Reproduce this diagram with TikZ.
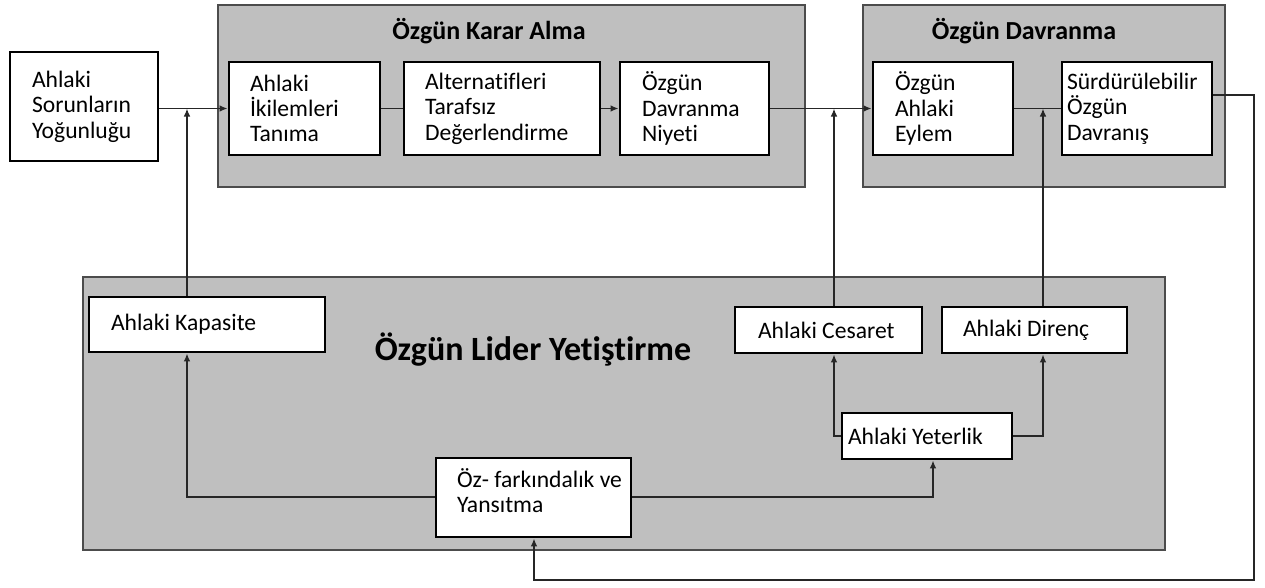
\documentclass[tikz,border=0pt]{standalone}
\usepackage{fontspec}
\setmainfont{Carlito}[Ligatures=NoCommon]
\usetikzlibrary{arrows.meta}
\begin{document}
\begin{tikzpicture}[x=0.75pt,y=-0.75pt,
  panel/.style={draw=black!70, line width=1.6pt, fill=black!25, inner sep=0pt},
  box/.style={draw=black, line width=2.1pt, fill=white, inner ysep=0pt,
    align=left, font=\fontsize{17.7}{19}\selectfont,
    execute at begin node={\spaceskip=4pt\relax\hyphenpenalty=10000\relax}},
  ttl/.style={font=\fontsize{19.5}{22}\selectfont\bfseries, inner sep=0pt},
  link/.style={line width=1.2pt, black!85},
  arr/.style={link, -{Latex[length=6pt,width=5pt]}}]
\useasboundingbox (0,0) rectangle (1265,587);

% group panels
\node[panel, minimum width=440.25pt, minimum height=136.5pt] (kar) at (511.5,96) {};
\node[panel, minimum width=271.5pt, minimum height=136.5pt] (dav) at (1044,96) {};
\node[panel, minimum width=811.5pt, minimum height=204.75pt] (lid) at (624,413.5) {};

\node[ttl] (karT) at (489,31) {Özgün Karar Alma};
\node[ttl] (davT) at (1024,31) {Özgün Davranma};
\node[ttl, font=\fontsize{25.5}{28}\selectfont\bfseries] (lidT) at (533,350) {Özgün Lider Yetiştirme};

% process boxes
\node[box, minimum height=81.75pt, inner xsep=16.5pt, text width=78pt] (sor) at (84,106.5)
  {Ahlaki\\Sorunların\\Yoğunluğu};
\node[box, minimum height=69.75pt, inner xsep=15.75pt, text width=81.75pt] (ikil) at (304.5,108.5)
  {Ahlaki\\İkilemleri\\Tanıma};
\node[box, minimum height=69.75pt, inner xsep=15.75pt, text width=115.5pt] (alt) at (502,108.5)
  {Alternatifleri\\Tarafsız\\Değerlendirme};
\node[box, minimum height=69.75pt, inner xsep=16.5pt, text width=78.75pt] (niy) at (694.5,108.5)
  {Özgün\\Davranma\\Niyeti};
\node[box, minimum height=69.75pt, inner xsep=16.5pt, text width=72pt] (eyl) at (943,108.5)
  {Özgün\\Ahlaki\\Eylem};
\node[box, minimum height=69.75pt, inner xsep=3.75pt, text width=105pt] (sur) at (1137,108.5)
  {Sürdürülebilir\\Özgün\\Davranış};

\node[box, minimum height=41.25pt, inner xsep=16.5pt, text width=144pt] (kap) at (207,324.5)
  {\mbox{Ahlaki Kapasite}};
\node[box, minimum height=34.5pt, inner xsep=17.25pt, text width=105.75pt] (ces) at (828.5,330)
  {\mbox{Ahlaki Cesaret}};
\node[box, minimum height=34.5pt, inner xsep=15.75pt, text width=107.25pt] (dir) at (1034.5,330)
  {\mbox{Ahlaki Direnç}};
\node[box, minimum height=34.5pt, inner xsep=4.5pt, text width=118.5pt] (yet) at (927,436)
  {\mbox{Ahlaki Yeterlik}};
\node[box, minimum height=59.25pt, inner xsep=15.75pt, text width=114.75pt, text depth=29pt] (ozf) at (533.5,497.5)
  {\mbox{Öz- farkındalık ve}\\Yansıtma};

% junction points on the main flow line
\coordinate (j1) at (187,108.5);
\coordinate (j2) at (834,108.5);
\coordinate (j3) at (1043,108.5);
\coordinate (j4) at (933,497);
\coordinate (r1) at (1254,95);
\coordinate (r2) at (1254,580);
\coordinate (r3) at (534,580);

% main flow
\draw[arr] (sor.east |- ikil.west) -- (ikil.west);
\draw[link] (ikil.east) -- (alt.west);
\draw[arr] (alt.east) -- (niy.west);
\draw[arr] (niy.east) -- (eyl.west);
\draw[link] (eyl.east) -- (sur.west);

% inputs from the development panel
\draw[arr] (kap.north -| j1) -- (j1);
\draw[arr] (ces.north -| j2) -- (j2);
\draw[arr] (dir.north -| j3) -- (j3);
\draw[arr] (yet.west) -| (ces.south -| j2);
\draw[arr] (yet.east) -| (dir.south -| j3);
\draw[arr] (ozf.west |- j4) -| (kap.south -| j1);
\draw[arr] (ozf.east |- j4) -| (yet.south -| j4);

% feedback loop
\draw[arr] (sur.east |- r1) -- (r1) -- (r2) -- (r3) -- (ozf.south -| r3);
\end{tikzpicture}
\end{document}
